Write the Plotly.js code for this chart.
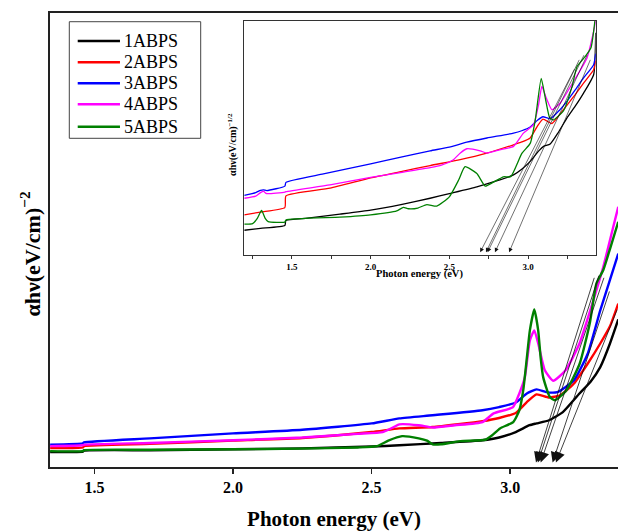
<!DOCTYPE html>
<html><head><meta charset="utf-8">
<script src="https://cdn.plot.ly/plotly-3.0.1.min.js"></script>
<style>html,body{margin:0;padding:0;background:#fff;overflow:hidden}</style>
</head><body><div id="chart" style="width:618px;height:531px"></div>
<script>
const seriesNames = ['1ABPS','2ABPS','3ABPS','4ABPS','5ABPS'];
const seriesColors = ['#000000','#ff0000','#0000ff','#ff00ff','#008000'];

// ---- main plot data (photon energy eV, αhν² arbitrary units) ----
const m1x = [1.34,1.458,1.462,1.7,2.0,2.25,2.5,2.6,2.75,2.9,2.96,3.02,3.07,3.095,3.14,3.19,3.25,3.29,3.325,3.36,3.39];
const m1y = [3.3,3.4,3.6,3.7,3.9,4.1,4.5,4.8,5.3,5.9,6.5,7.7,9.2,9.6,10.3,12.1,16.2,18.8,22.0,27.2,32.5];
const m2x = [1.34,1.458,1.462,1.7,2.0,2.25,2.5,2.6,2.72,2.9,2.96,3.02,3.06,3.095,3.14,3.18,3.23,3.28,3.325,3.36,3.39];
const m2y = [4.2,4.3,4.6,5.1,5.8,6.4,7.7,8.5,8.8,10.1,10.8,11.9,14.3,16.0,15.3,15.8,18.4,22.8,27.2,31.0,36.0];
const m3x = [1.34,1.458,1.462,1.7,2.0,2.25,2.5,2.6,2.72,2.9,2.96,3.02,3.06,3.095,3.13,3.17,3.23,3.28,3.325,3.36,3.39];
const m3y = [4.9,5.2,5.4,6.3,7.4,8.2,9.6,10.7,11.4,12.5,13.2,14.2,16.2,17.1,16.5,16.5,19.1,25.0,34.5,41.2,47.0];
const m4x = [1.34,1.458,1.462,1.7,2.0,2.25,2.45,2.54,2.58,2.6,2.67,2.72,2.8,2.9,2.94,3.01,3.033,3.053,3.071,3.087,3.101,3.125,3.155,3.2,3.25,3.3,3.336,3.372,3.39];
const m4y = [4.6,4.8,4.9,5.3,5.9,6.5,7.3,7.7,8.8,9.4,9.2,8.7,9.2,9.9,11.8,13.2,16.2,19.8,27.9,30.1,27.2,21.3,19.0,21.3,27.2,36.7,44.1,52.9,57.3];
const m5x = [1.34,1.458,1.462,1.7,2.0,2.24,2.45,2.52,2.56,2.61,2.67,2.70,2.72,2.75,2.82,2.91,2.935,2.963,3.011,3.033,3.047,3.06,3.071,3.087,3.101,3.11,3.119,3.143,3.161,3.203,3.251,3.287,3.311,3.336,3.36,3.39];
const m5y = [3.5,3.5,3.7,3.8,3.9,4.05,4.3,4.6,5.8,6.8,6.3,5.8,5.0,5.0,5.7,6.0,7.0,8.5,9.9,12.5,16.9,24.0,30.1,34.7,30.1,24.0,19.8,15.4,14.7,16.9,22.8,31.6,40.4,43.4,48.0,54.0];

// tangent arrows of main plot
const mainArrowTipX  = [3.093,3.100,3.110,3.153,3.165];
const mainArrowTipY  = [1.0,1.0,1.0,1.0,1.0];
const mainArrowTailX = [3.305,3.322,3.340,3.360,3.388];
const mainArrowTailY = [42.0,42.5,42.0,39.0,35.0];

// ---- inset data (αhν^1/2 arbitrary units) ----
const i1x = [1.197,1.3,1.455,1.462,1.6,1.805,2.0,2.2,2.378,2.5,2.675,2.8,2.908,2.96,3.014,3.07,3.099,3.141,3.19,3.247,3.3,3.353,3.417,3.43];
const i1y = [10.4,11.2,12.4,14.6,15.6,17.3,19.0,21.5,24.1,26.1,29.0,31.5,34.1,36.5,39.9,44.5,46.3,47.3,52.0,58.4,63.5,69.1,77.0,95.0];
const i2x = [1.197,1.3,1.455,1.462,1.742,2.0,2.2,2.378,2.569,2.739,2.908,2.96,3.014,3.06,3.095,3.152,3.2,3.247,3.3,3.353,3.417,3.43];
const i2y = [17.0,18.2,20.1,25.1,28.4,32.8,35.6,38.1,40.6,43.4,47.0,48.2,49.9,55.0,58.0,56.1,59.8,63.9,68.5,73.4,79.1,83.0];
const i3x = [1.197,1.27,1.30,1.32,1.34,1.455,1.462,1.7,2.0,2.2,2.378,2.5,2.611,2.739,2.908,2.96,3.014,3.06,3.095,3.141,3.2,3.247,3.3,3.353,3.417,3.43];
const i3y = [25.3,26.5,27.5,27.7,27.4,29.3,30.9,34.5,38.8,41.8,44.4,46.0,48.1,49.9,52.0,53.0,54.6,57.5,59.0,58.1,61.8,65.6,70.5,75.6,81.3,86.0];
const i4x = [1.197,1.27,1.30,1.32,1.339,1.455,1.462,1.742,2.0,2.2,2.378,2.45,2.526,2.57,2.611,2.696,2.739,2.82,2.908,2.971,3.035,3.067,3.088,3.116,3.152,3.205,3.29,3.375,3.417,3.43];
const i4y = [24.1,25.0,26.5,27.0,26.1,26.7,26.9,29.8,33.0,35.2,37.2,38.3,40.6,43.5,45.3,44.4,43.4,44.8,46.3,52.0,55.6,64.1,72.0,67.0,62.0,64.9,74.2,84.2,95.6,100];
const i5x = [1.197,1.25,1.28,1.307,1.33,1.349,1.455,1.462,1.805,2.0,2.166,2.208,2.24,2.30,2.357,2.42,2.5,2.56,2.60,2.675,2.728,2.78,2.844,2.89,2.961,3.014,3.046,3.084,3.11,3.137,3.16,3.226,3.28,3.311,3.364,3.40,3.425];
const i5y = [13.0,13.2,15.5,18.9,15.5,14.1,13.9,14.8,16.0,17.0,18.7,20.2,19.6,19.9,21.4,20.7,24.7,32.0,37.6,34.7,29.3,31.0,33.3,33.3,43.3,47.6,57.6,75.4,67.0,58.7,57.6,61.6,72.0,80.4,84.8,88.5,100];

const insetArrowTipX  = [2.696,2.733,2.743,2.790,2.880];
const insetArrowTipY  = [1.0,1.0,1.0,1.0,1.0];
const insetArrowTailX = [3.30,3.33,3.36,3.38,3.40];
const insetArrowTailY = [80,84,86,86,84];

const mainTickVals = [1.5,2.0,2.5,3.0];
const mainTickText = ['1.5','2.0','2.5','3.0'];
const insetMinorTicks = [1.25,1.75,2.25,2.75,3.25];

const mainXs = [m1x,m2x,m3x,m4x,m5x], mainYs = [m1y,m2y,m3y,m4y,m5y];
const insXs = [i1x,i2x,i3x,i4x,i5x], insYs = [i1y,i2y,i3y,i4y,i5y];

const serif = 'Liberation Serif, Times New Roman, serif';
const traces = [];
for (let k = 0; k < 5; k++) {
  traces.push({x: mainXs[k], y: mainYs[k], name: seriesNames[k], type: 'scatter', mode: 'lines',
    line: {color: seriesColors[k], width: 2.4, shape: 'spline', smoothing: 0.5},
    xaxis: 'x', yaxis: 'y', showlegend: false});
}
for (let k = 0; k < 5; k++) {
  traces.push({x: insXs[k], y: insYs[k], name: seriesNames[k], type: 'scatter', mode: 'lines',
    line: {color: seriesColors[k], width: 1.3, shape: 'spline', smoothing: 0.5},
    xaxis: 'x2', yaxis: 'y2', showlegend: false});
}

const annotations = [];
const shapes = [];
for (let k = 0; k < mainArrowTipX.length; k++) {
  annotations.push({x: mainArrowTipX[k], y: mainArrowTipY[k], xref: 'x', yref: 'y',
    ax: mainArrowTailX[k], ay: mainArrowTailY[k], axref: 'x', ayref: 'y',
    text: '', showarrow: true, arrowhead: 2, arrowsize: 2.6, arrowwidth: 0.8, arrowcolor: '#111'});
}
for (let k = 0; k < insetArrowTipX.length; k++) {
  annotations.push({x: insetArrowTipX[k], y: insetArrowTipY[k], xref: 'x2', yref: 'y2',
    ax: insetArrowTailX[k], ay: insetArrowTailY[k], axref: 'x2', ayref: 'y2',
    text: '', showarrow: true, arrowhead: 2, arrowsize: 1.4, arrowwidth: 0.6, arrowcolor: '#111'});
}
// main y title
annotations.push({text: 'αhν(eV/cm)<sup>−2</sup>', xref: 'paper', yref: 'paper', x: 0, y: 0.47,
  xanchor: 'center', yanchor: 'middle', xshift: -20, textangle: -90, showarrow: false,
  font: {family: serif, size: 22, color: '#000', weight: 'bold'}});
// inset titles
annotations.push({text: 'Photon energy (eV)', xref: 'paper', yref: 'paper', x: 0.651, y: 0.468,
  xanchor: 'center', yanchor: 'middle', yshift: -19, showarrow: false,
  font: {family: serif, size: 10.5, color: '#000', weight: 'bold'}});
annotations.push({text: 'αhν(eV/cm)<sup>−1/2</sup>', xref: 'paper', yref: 'paper', x: 0.342, y: 0.71,
  xanchor: 'center', yanchor: 'middle', xshift: -12, textangle: -90, showarrow: false,
  font: {family: serif, size: 10, color: '#000', weight: 'bold'}});

// legend box (paper coords)
const legX0 = 0.034, legX1 = 0.2653, legY0 = 0.724, legY1 = 0.9808;
const legRowY = [0.9383, 0.8914, 0.8451, 0.7989, 0.7496];
shapes.push({type: 'rect', xref: 'paper', yref: 'paper', x0: legX0, x1: legX1, y0: legY0, y1: legY1,
  line: {color: '#444', width: 1}, fillcolor: '#fff', layer: 'above'});
for (let k = 0; k < 5; k++) {
  shapes.push({type: 'line', xref: 'paper', yref: 'paper', x0: 0.0488, x1: 0.1232, y0: legRowY[k], y1: legRowY[k],
    line: {color: seriesColors[k], width: 2.6}, layer: 'above'});
  annotations.push({text: seriesNames[k], xref: 'paper', yref: 'paper', x: 0.127, y: legRowY[k],
    xanchor: 'left', yanchor: 'middle', showarrow: false,
    font: {family: serif, size: 18, color: '#000'}});
}

const layout = {
  width: 618, height: 531,
  margin: {l: 50, r: 0, t: 13, b: 64},
  paper_bgcolor: '#fff', plot_bgcolor: '#fff',
  showlegend: false,
  xaxis: {domain: [0, 1], range: [1.3395, 3.389], showline: true, linewidth: 2, linecolor: '#222',
    mirror: true, ticks: 'outside', ticklen: 5, tickwidth: 1.5, tickcolor: '#222',
    tickvals: mainTickVals, ticktext: mainTickText, showgrid: false, zeroline: false,
    tickfont: {family: serif, size: 16, color: '#000', weight: 'bold'},
    title: {text: 'Photon energy (eV)', standoff: 16, font: {family: serif, size: 21, color: '#000', weight: 'bold'}},
    anchor: 'y'},
  yaxis: {domain: [0, 1], range: [0, 100], showline: true, linewidth: 2, linecolor: '#222',
    mirror: false, ticks: '', showticklabels: false, showgrid: false, zeroline: false, anchor: 'x'},
  xaxis2: {domain: [0.342, 0.9607], range: [1.197, 3.43], anchor: 'y2', showline: true, linewidth: 1.3,
    linecolor: '#333', mirror: true, ticks: 'outside', ticklen: 3, tickwidth: 1, tickcolor: '#333',
    tickvals: mainTickVals, ticktext: mainTickText, showgrid: false, zeroline: false,
    minor: {tickvals: insetMinorTicks, ticks: 'outside', ticklen: 3, tickwidth: 1, tickcolor: '#333'},
    tickfont: {family: serif, size: 9, color: '#000', weight: 'bold'}},
  yaxis2: {domain: [0.468, 0.9824], range: [0, 100], anchor: 'x2', showline: true, linewidth: 1.3,
    linecolor: '#333', mirror: true, ticks: '', showticklabels: false, showgrid: false, zeroline: false},
  shapes: shapes,
  annotations: annotations
};

Plotly.newPlot('chart', traces, layout, {displayModeBar: false, staticPlot: true});
</script>
</body></html>
